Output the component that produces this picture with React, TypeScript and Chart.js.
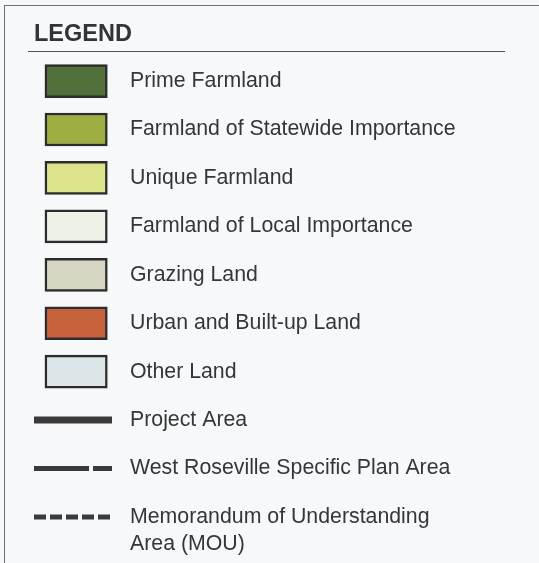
import React, { useEffect, useRef } from "react";
import { Chart, registerables } from "chart.js";

Chart.register(...registerables);

// ---- data ----
const landLabels: string[] = [
  "Prime Farmland",
  "Farmland of Statewide Importance",
  "Unique Farmland",
  "Farmland of Local Importance",
  "Grazing Land",
  "Urban and Built-up Land",
  "Other Land",
];
const landColors: string[] = [
  "#52703a",
  "#9fae40",
  "#dce38a",
  "#eef2e6",
  "#d6d6c2",
  "#c6623c",
  "#dce6e9",
];
const boundaryLabels: (string | string[])[] = [
  "Project Area",
  "West Roseville Specific Plan Area",
  ["Memorandum of Understanding", "Area (MOU)"],
];
const boundaryDashes: number[][] = [[], [55, 4, 20, 4], [12, 4]];
const boundaryWidths: number[] = [7, 5, 5];
// row index of each legend entry (top to bottom)
const landRows: number[] = [0, 1, 2, 3, 4, 5, 6];
const boundaryRows: number[] = [7, 8, 9];
// tick rows for the text labels (MOU label is two lines, centred below its symbol row)
const labelRows: number[] = [0, 1, 2, 3, 4, 5, 6, 7, 8, 9.28];
const labelTexts: (string | string[])[] = [...landLabels, ...boundaryLabels];
const swatchSpan: [number, number] = [14, 94];
const lineSpan: [number, number] = [0, 100];

const TEXT = "#363636";
const FONT = "'Liberation Sans', Arial, Helvetica, sans-serif";

export default function App() {
  const ref = useRef<HTMLCanvasElement | null>(null);

  useEffect(() => {
    if (!ref.current) return;
    const datasets: any[] = [
      {
        type: "bar",
        data: landRows.map((r) => ({ x: swatchSpan, y: r })),
        backgroundColor: landColors,
        borderColor: "#2c2c2c",
        borderWidth: 2.5,
        borderSkipped: false,
        barThickness: 33,
      },
      ...boundaryRows.map((r, i) => ({
        type: "line",
        data: lineSpan.map((x) => ({ x, y: r })),
        borderColor: "#3a3a3a",
        borderWidth: boundaryWidths[i],
        borderDash: boundaryDashes[i],
        borderCapStyle: "butt",
        pointRadius: 0,
        fill: false,
      })),
    ];

    const chart = new Chart(ref.current, {
      type: "bar",
      data: { datasets },
      options: {
        indexAxis: "y",
        animation: false,
        responsive: false,
        maintainAspectRatio: false,
        layout: { padding: { left: 34, right: 0, top: 0, bottom: 0 } },
        plugins: {
          legend: { display: false },
          tooltip: { enabled: false },
          title: {
            display: true,
            text: "LEGEND",
            align: "start",
            color: "#333333",
            font: { family: FONT, size: 23.5, weight: "bold" },
            padding: { top: 20, bottom: 5 },
          },
        },
        scales: {
          x: {
            type: "linear",
            min: 0,
            max: 100,
            display: false,
            offset: false,
            grid: { offset: false },
          },
          y: {
            type: "linear",
            position: "right",
            reverse: true,
            offset: false,
            min: -0.575,
            max: 9.95,
            grid: { display: false, drawTicks: false, offset: false },
            border: { display: false },
            afterBuildTicks: (scale: any) => {
              scale.ticks = labelRows.map((v) => ({ value: v }));
            },
            afterFit: (scale: any) => {
              scale.width = 539 - 112;
              scale.paddingTop = 0;
              scale.paddingBottom = 0;
            },
            ticks: {
              autoSkip: false,
              padding: 18,
              color: TEXT,
              font: { family: FONT, size: 21.3, lineHeight: 1.28 },
              callback: (value: any) => {
                const idx = labelRows.indexOf(Number(value));
                return idx >= 0 ? (labelTexts[idx] as any) : "";
              },
            },
          },
        },
      } as any,
    });
    return () => chart.destroy();
  }, []);

  return (
    <div
      style={{
        position: "fixed",
        left: 0,
        top: 0,
        width: 539,
        height: 563,
        overflow: "hidden",
        background: "#f7f8fa",
      }}
    >
      <div
        style={{
          position: "absolute",
          left: 4,
          top: 5,
          width: 700,
          height: 700,
          border: "1.5px solid #707070",
        }}
      />
      <div
        style={{
          position: "absolute",
          left: 28,
          top: 51,
          width: 477,
          height: 0,
          borderTop: "1.5px solid #555555",
        }}
      />
      <canvas
        ref={ref}
        width={539}
        height={563}
        style={{ position: "absolute", left: 0, top: 0, width: 539, height: 563 }}
      />
    </div>
  );
}
